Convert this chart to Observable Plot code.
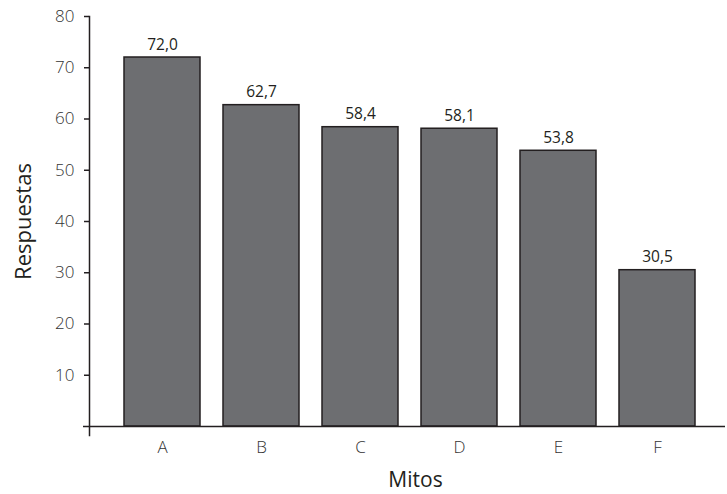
<!DOCTYPE html>
<html><head><meta charset="utf-8">
<script src="https://cdn.jsdelivr.net/npm/d3@7"></script>
<script src="https://cdn.jsdelivr.net/npm/@observablehq/plot@0.6"></script>
<style>body{margin:0;background:#fff}</style>
</head><body><div id="chart"></div>
<script>
const categories = ["A", "B", "C", "D", "E", "F"];
const values = [72.0, 62.7, 58.4, 58.1, 53.8, 30.5];
const yTicks = [10, 20, 30, 40, 50, 60, 70, 80];
const xLabel = "Mitos";
const yLabel = "Respuestas";

const data = categories.map((c, i) => ({mito: c, valor: values[i]}));
const fmt = v => v.toFixed(1).replace(".", ",");
const ink = "#231f20";

const chart = Plot.plot({
  width: 727, height: 494,
  marginTop: 16, marginBottom: 68, marginLeft: 89, marginRight: 2,
  style: {fontFamily: "'Open Sans', sans-serif", color: ink, background: "#fff"},
  x: {domain: categories, range: [112.5, 706.5], paddingInner: 0.23, paddingOuter: 0.115},
  y: {domain: [0, 80]},
  marks: [
    Plot.barY(data, {x: "mito", y: "valor", fill: "#6d6e71", stroke: ink, strokeWidth: 1.5}),
    Plot.text(data, {x: "mito", y: "valor", text: d => fmt(d.valor), lineAnchor: "bottom", dy: -8, fontSize: 15.5, fill: ink}),
    Plot.axisY({ticks: yTicks, tickSize: 5, tickPadding: 10, label: null, fontSize: 17, fontWeight: 300, fill: "#333", stroke: ink, strokeWidth: 1.5}),
    Plot.axisX({tickSize: 0, tickPadding: 14, label: null, fontSize: 17, fontWeight: 300, fill: "#333"}),
    Plot.ruleY([0], {insetLeft: -6, stroke: ink, strokeWidth: 1.5}),
    Plot.frame({anchor: "left", insetBottom: -9, stroke: ink, strokeWidth: 1.5}),
    Plot.text([yLabel], {text: d => d, frameAnchor: "left", textAnchor: "middle", lineAnchor: "middle", rotate: -90, dx: -66, fontSize: 22, fill: ink}),
    Plot.text([xLabel], {text: d => d, frameAnchor: "bottom", textAnchor: "middle", dx: 8, dy: 60, fontSize: 21, fill: ink})
  ]
});
document.getElementById("chart").append(chart);
</script>
</body></html>
